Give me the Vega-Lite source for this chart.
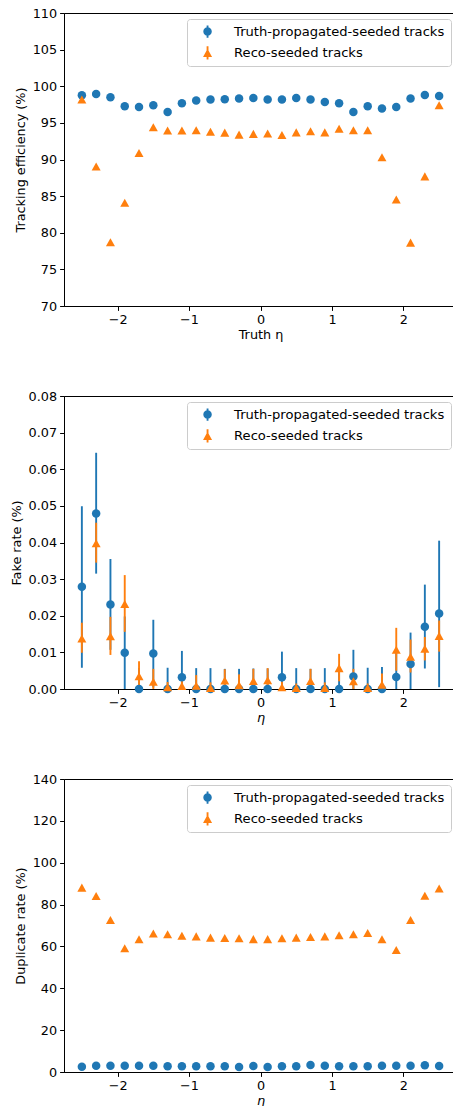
{
"$schema":"https://vega.github.io/schema/vega-lite/v6.json",
"background":"white",
"padding":{"top":6,"left":9,"right":0,"bottom":0},
"autosize":{"type":"pad"},
"spacing":90,
"bounds":"flush",
"resolve":{"scale":{"color":"independent","shape":"independent"},"legend":{"color":"independent","shape":"independent"}},
"config":{
 "font":"DejaVu Sans",
 "view":{"stroke":"black","strokeWidth":1},
 "axis":{"grid":false,"labelOverlap":false,"labelFont":"DejaVu Sans","titleFont":"DejaVu Sans","labelFontSize":12.8,"titleFontSize":12.8,"titleFontWeight":"normal","labelColor":"black","titleColor":"black","domainColor":"black","tickColor":"black","domainWidth":1,"tickWidth":1,"tickSize":4.4,"labelPadding":3},
 "axisX":{"titlePadding":2},
 "axisY":{"titlePadding":5},
 "legend":{"orient":"top-right","offset":6,"padding":6,"symbolOffset":8,"labelOffset":20,"rowPadding":6.3,"strokeColor":"#cccccc","fillColor":"rgba(255,255,255,0.8)","cornerRadius":3,"labelFont":"DejaVu Sans","labelFontSize":13.1,"labelColor":"black","labelLimit":0,"symbolStrokeWidth":0,"symbolSize":72,
  "symbolType":{"expr":"datum.value == 'Reco-seeded tracks' ? 'M0,-0.95L1.06,0.95L-1.06,0.95ZM-0.22,-1.55L0.22,-1.55L0.22,1.55L-0.22,1.55Z' : 'M1,0A1,1,0,1,1,-1,0A1,1,0,1,1,1,0ZM-0.22,-1.45L0.22,-1.45L0.22,1.45L-0.22,1.45Z'"}}
},
"datasets":{
"eff":[
{"eta":-2.5,"series":"Truth-propagated-seeded tracks","v":98.77},{"eta":-2.3,"series":"Truth-propagated-seeded tracks","v":98.95},{"eta":-2.1,"series":"Truth-propagated-seeded tracks","v":98.5},{"eta":-1.9,"series":"Truth-propagated-seeded tracks","v":97.27},{"eta":-1.7,"series":"Truth-propagated-seeded tracks","v":97.18},{"eta":-1.5,"series":"Truth-propagated-seeded tracks","v":97.4},{"eta":-1.3,"series":"Truth-propagated-seeded tracks","v":96.5},{"eta":-1.1,"series":"Truth-propagated-seeded tracks","v":97.68},{"eta":-0.9,"series":"Truth-propagated-seeded tracks","v":98.04},{"eta":-0.7,"series":"Truth-propagated-seeded tracks","v":98.18},{"eta":-0.5,"series":"Truth-propagated-seeded tracks","v":98.22},{"eta":-0.3,"series":"Truth-propagated-seeded tracks","v":98.32},{"eta":-0.1,"series":"Truth-propagated-seeded tracks","v":98.4},{"eta":0.1,"series":"Truth-propagated-seeded tracks","v":98.18},{"eta":0.3,"series":"Truth-propagated-seeded tracks","v":98.18},{"eta":0.5,"series":"Truth-propagated-seeded tracks","v":98.4},{"eta":0.7,"series":"Truth-propagated-seeded tracks","v":98.18},{"eta":0.9,"series":"Truth-propagated-seeded tracks","v":97.86},{"eta":1.1,"series":"Truth-propagated-seeded tracks","v":97.68},{"eta":1.3,"series":"Truth-propagated-seeded tracks","v":96.5},{"eta":1.5,"series":"Truth-propagated-seeded tracks","v":97.27},{"eta":1.7,"series":"Truth-propagated-seeded tracks","v":96.95},{"eta":1.9,"series":"Truth-propagated-seeded tracks","v":97.18},{"eta":2.1,"series":"Truth-propagated-seeded tracks","v":98.32},{"eta":2.3,"series":"Truth-propagated-seeded tracks","v":98.82},{"eta":2.5,"series":"Truth-propagated-seeded tracks","v":98.68},
{"eta":-2.5,"series":"Reco-seeded tracks","v":98.2},{"eta":-2.3,"series":"Reco-seeded tracks","v":89.05},{"eta":-2.1,"series":"Reco-seeded tracks","v":78.7},{"eta":-1.9,"series":"Reco-seeded tracks","v":84.1},{"eta":-1.7,"series":"Reco-seeded tracks","v":90.9},{"eta":-1.5,"series":"Reco-seeded tracks","v":94.4},{"eta":-1.3,"series":"Reco-seeded tracks","v":93.95},{"eta":-1.1,"series":"Reco-seeded tracks","v":93.95},{"eta":-0.9,"series":"Reco-seeded tracks","v":94.0},{"eta":-0.7,"series":"Reco-seeded tracks","v":93.8},{"eta":-0.5,"series":"Reco-seeded tracks","v":93.67},{"eta":-0.3,"series":"Reco-seeded tracks","v":93.4},{"eta":-0.1,"series":"Reco-seeded tracks","v":93.5},{"eta":0.1,"series":"Reco-seeded tracks","v":93.55},{"eta":0.3,"series":"Reco-seeded tracks","v":93.35},{"eta":0.5,"series":"Reco-seeded tracks","v":93.7},{"eta":0.7,"series":"Reco-seeded tracks","v":93.85},{"eta":0.9,"series":"Reco-seeded tracks","v":93.7},{"eta":1.1,"series":"Reco-seeded tracks","v":94.2},{"eta":1.3,"series":"Reco-seeded tracks","v":94.0},{"eta":1.5,"series":"Reco-seeded tracks","v":94.0},{"eta":1.7,"series":"Reco-seeded tracks","v":90.3},{"eta":1.9,"series":"Reco-seeded tracks","v":84.55},{"eta":2.1,"series":"Reco-seeded tracks","v":78.65},{"eta":2.3,"series":"Reco-seeded tracks","v":87.7},{"eta":2.5,"series":"Reco-seeded tracks","v":97.4}
],
"fake":[
{"eta":-2.5,"series":"Truth-propagated-seeded tracks","v":0.0279,"lo":0.0058,"hi":0.0499},{"eta":-2.3,"series":"Truth-propagated-seeded tracks","v":0.0479,"lo":0.0315,"hi":0.0645},{"eta":-2.1,"series":"Truth-propagated-seeded tracks","v":0.0231,"lo":0.0107,"hi":0.0355},{"eta":-1.9,"series":"Truth-propagated-seeded tracks","v":0.0099,"lo":0,"hi":0.0198},{"eta":-1.7,"series":"Truth-propagated-seeded tracks","v":0,"lo":0,"hi":0.0057},{"eta":-1.5,"series":"Truth-propagated-seeded tracks","v":0.0097,"lo":0.0004,"hi":0.0189},{"eta":-1.3,"series":"Truth-propagated-seeded tracks","v":0,"lo":0,"hi":0.0058},{"eta":-1.1,"series":"Truth-propagated-seeded tracks","v":0.0032,"lo":0,"hi":0.0104},{"eta":-0.9,"series":"Truth-propagated-seeded tracks","v":0,"lo":0,"hi":0.0057},{"eta":-0.7,"series":"Truth-propagated-seeded tracks","v":0,"lo":0,"hi":0.0057},{"eta":-0.5,"series":"Truth-propagated-seeded tracks","v":0,"lo":0,"hi":0.0055},{"eta":-0.3,"series":"Truth-propagated-seeded tracks","v":0,"lo":0,"hi":0.0055},{"eta":-0.1,"series":"Truth-propagated-seeded tracks","v":0,"lo":0,"hi":0.0056},{"eta":0.1,"series":"Truth-propagated-seeded tracks","v":0,"lo":0,"hi":0.0056},{"eta":0.3,"series":"Truth-propagated-seeded tracks","v":0.0032,"lo":0,"hi":0.0102},{"eta":0.5,"series":"Truth-propagated-seeded tracks","v":0,"lo":0,"hi":0.0057},{"eta":0.7,"series":"Truth-propagated-seeded tracks","v":0,"lo":0,"hi":0.0055},{"eta":0.9,"series":"Truth-propagated-seeded tracks","v":0,"lo":0,"hi":0.0057},{"eta":1.1,"series":"Truth-propagated-seeded tracks","v":0,"lo":0,"hi":0.0057},{"eta":1.3,"series":"Truth-propagated-seeded tracks","v":0.0034,"lo":0,"hi":0.0107},{"eta":1.5,"series":"Truth-propagated-seeded tracks","v":0,"lo":0,"hi":0.0058},{"eta":1.7,"series":"Truth-propagated-seeded tracks","v":0,"lo":0,"hi":0.006},{"eta":1.9,"series":"Truth-propagated-seeded tracks","v":0.0033,"lo":0,"hi":0.0105},{"eta":2.1,"series":"Truth-propagated-seeded tracks","v":0.0068,"lo":0,"hi":0.0154},{"eta":2.3,"series":"Truth-propagated-seeded tracks","v":0.017,"lo":0.0056,"hi":0.0285},{"eta":2.5,"series":"Truth-propagated-seeded tracks","v":0.0206,"lo":0.0005,"hi":0.0405},
{"eta":-2.5,"series":"Reco-seeded tracks","v":0.0138,"lo":0.0099,"hi":0.0181},{"eta":-2.3,"series":"Reco-seeded tracks","v":0.0398,"lo":0.0345,"hi":0.0454},{"eta":-2.1,"series":"Reco-seeded tracks","v":0.0144,"lo":0.0093,"hi":0.0197},{"eta":-1.9,"series":"Reco-seeded tracks","v":0.0232,"lo":0.0156,"hi":0.0311},{"eta":-1.7,"series":"Reco-seeded tracks","v":0.0035,"lo":0.0005,"hi":0.0076},{"eta":-1.5,"series":"Reco-seeded tracks","v":0.002,"lo":0,"hi":0.0055},{"eta":-1.3,"series":"Reco-seeded tracks","v":0.0005,"lo":0,"hi":0.0019},{"eta":-1.1,"series":"Reco-seeded tracks","v":0.0008,"lo":0,"hi":0.0025},{"eta":-0.9,"series":"Reco-seeded tracks","v":0.0009,"lo":0,"hi":0.0038},{"eta":-0.7,"series":"Reco-seeded tracks","v":0.0003,"lo":0,"hi":0.0018},{"eta":-0.5,"series":"Reco-seeded tracks","v":0.0023,"lo":0,"hi":0.0054},{"eta":-0.3,"series":"Reco-seeded tracks","v":0.001,"lo":0,"hi":0.004},{"eta":-0.1,"series":"Reco-seeded tracks","v":0.0022,"lo":0,"hi":0.0055},{"eta":0.1,"series":"Reco-seeded tracks","v":0.0024,"lo":0,"hi":0.0057},{"eta":0.3,"series":"Reco-seeded tracks","v":0.0005,"lo":0,"hi":0.002},{"eta":0.5,"series":"Reco-seeded tracks","v":0.0003,"lo":0,"hi":0.0015},{"eta":0.7,"series":"Reco-seeded tracks","v":0.0022,"lo":0,"hi":0.0055},{"eta":0.9,"series":"Reco-seeded tracks","v":0.0003,"lo":0,"hi":0.0018},{"eta":1.1,"series":"Reco-seeded tracks","v":0.0057,"lo":0.0021,"hi":0.0096},{"eta":1.3,"series":"Reco-seeded tracks","v":0.0021,"lo":0,"hi":0.0055},{"eta":1.5,"series":"Reco-seeded tracks","v":0.0003,"lo":0,"hi":0.0015},{"eta":1.7,"series":"Reco-seeded tracks","v":0.0012,"lo":0,"hi":0.0042},{"eta":1.9,"series":"Reco-seeded tracks","v":0.0107,"lo":0.005,"hi":0.0167},{"eta":2.1,"series":"Reco-seeded tracks","v":0.0088,"lo":0.0045,"hi":0.0135},{"eta":2.3,"series":"Reco-seeded tracks","v":0.011,"lo":0.0078,"hi":0.0142},{"eta":2.5,"series":"Reco-seeded tracks","v":0.0145,"lo":0.0102,"hi":0.0187}
],
"dup":[
{"eta":-2.5,"series":"Truth-propagated-seeded tracks","v":2.5},{"eta":-2.3,"series":"Truth-propagated-seeded tracks","v":3.0},{"eta":-2.1,"series":"Truth-propagated-seeded tracks","v":3.0},{"eta":-1.9,"series":"Truth-propagated-seeded tracks","v":3.0},{"eta":-1.7,"series":"Truth-propagated-seeded tracks","v":3.0},{"eta":-1.5,"series":"Truth-propagated-seeded tracks","v":3.0},{"eta":-1.3,"series":"Truth-propagated-seeded tracks","v":2.7},{"eta":-1.1,"series":"Truth-propagated-seeded tracks","v":2.7},{"eta":-0.9,"series":"Truth-propagated-seeded tracks","v":2.7},{"eta":-0.7,"series":"Truth-propagated-seeded tracks","v":2.7},{"eta":-0.5,"series":"Truth-propagated-seeded tracks","v":2.7},{"eta":-0.3,"series":"Truth-propagated-seeded tracks","v":2.4},{"eta":-0.1,"series":"Truth-propagated-seeded tracks","v":2.9},{"eta":0.1,"series":"Truth-propagated-seeded tracks","v":2.4},{"eta":0.3,"series":"Truth-propagated-seeded tracks","v":2.7},{"eta":0.5,"series":"Truth-propagated-seeded tracks","v":2.7},{"eta":0.7,"series":"Truth-propagated-seeded tracks","v":3.3},{"eta":0.9,"series":"Truth-propagated-seeded tracks","v":3.0},{"eta":1.1,"series":"Truth-propagated-seeded tracks","v":2.7},{"eta":1.3,"series":"Truth-propagated-seeded tracks","v":2.7},{"eta":1.5,"series":"Truth-propagated-seeded tracks","v":2.7},{"eta":1.7,"series":"Truth-propagated-seeded tracks","v":3.0},{"eta":1.9,"series":"Truth-propagated-seeded tracks","v":3.0},{"eta":2.1,"series":"Truth-propagated-seeded tracks","v":3.0},{"eta":2.3,"series":"Truth-propagated-seeded tracks","v":3.2},{"eta":2.5,"series":"Truth-propagated-seeded tracks","v":2.9},
{"eta":-2.5,"series":"Reco-seeded tracks","v":88.1},{"eta":-2.3,"series":"Reco-seeded tracks","v":84.1},{"eta":-2.1,"series":"Reco-seeded tracks","v":72.6},{"eta":-1.9,"series":"Reco-seeded tracks","v":59.1},{"eta":-1.7,"series":"Reco-seeded tracks","v":63.4},{"eta":-1.5,"series":"Reco-seeded tracks","v":66.2},{"eta":-1.3,"series":"Reco-seeded tracks","v":65.8},{"eta":-1.1,"series":"Reco-seeded tracks","v":65.1},{"eta":-0.9,"series":"Reco-seeded tracks","v":64.8},{"eta":-0.7,"series":"Reco-seeded tracks","v":64.2},{"eta":-0.5,"series":"Reco-seeded tracks","v":64.0},{"eta":-0.3,"series":"Reco-seeded tracks","v":63.9},{"eta":-0.1,"series":"Reco-seeded tracks","v":63.5},{"eta":0.1,"series":"Reco-seeded tracks","v":63.5},{"eta":0.3,"series":"Reco-seeded tracks","v":63.9},{"eta":0.5,"series":"Reco-seeded tracks","v":64.2},{"eta":0.7,"series":"Reco-seeded tracks","v":64.5},{"eta":0.9,"series":"Reco-seeded tracks","v":64.8},{"eta":1.1,"series":"Reco-seeded tracks","v":65.3},{"eta":1.3,"series":"Reco-seeded tracks","v":65.8},{"eta":1.5,"series":"Reco-seeded tracks","v":66.4},{"eta":1.7,"series":"Reco-seeded tracks","v":63.4},{"eta":1.9,"series":"Reco-seeded tracks","v":58.3},{"eta":2.1,"series":"Reco-seeded tracks","v":72.6},{"eta":2.3,"series":"Reco-seeded tracks","v":84.2},{"eta":2.5,"series":"Reco-seeded tracks","v":87.7}
]
},
"vconcat":[
{
 "width":393,"height":293,
 "data":{"name":"eff"},
 "mark":{"type":"point","filled":true,"opacity":1,"size":72,"strokeWidth":0},
 "encoding":{
  "x":{"field":"eta","type":"quantitative","scale":{"domain":[-2.75,2.75],"nice":false,"zero":false},"axis":{"values":[-2,-1,0,1,2],"format":"d","title":"Truth η","labelOverlap":false}},
  "y":{"field":"v","type":"quantitative","scale":{"domain":[70,110],"nice":false,"zero":false},"axis":{"values":[70,75,80,85,90,95,100,105,110],"format":"d","title":"Tracking efficiency (%)","labelOverlap":false}},
  "color":{"field":"series","type":"nominal","scale":{"domain":["Truth-propagated-seeded tracks","Reco-seeded tracks"],"range":["#1f77b4","#ff7f0e"]},"legend":{"title":null}},
  "shape":{"field":"series","type":"nominal","scale":{"domain":["Reco-seeded tracks","Truth-propagated-seeded tracks"],"range":["M0,-0.95L1.06,0.95L-1.06,0.95Z","circle"]},"legend":null}
 }
},
{
 "width":393,"height":293,
 "data":{"name":"fake"},
 "layer":[
  {"transform":[{"filter":"datum.series === 'Truth-propagated-seeded tracks'"}],
   "mark":{"type":"rule","color":"#1f77b4","strokeWidth":1.9},
   "encoding":{
    "x":{"field":"eta","type":"quantitative","scale":{"domain":[-2.75,2.75],"nice":false,"zero":false},"axis":{"values":[-2,-1,0,1,2],"format":"d","title":"η","titleFontStyle":"italic","labelOverlap":false}},
    "y":{"field":"lo","type":"quantitative","scale":{"domain":[0,0.08],"nice":false,"zero":false},"axis":{"values":[0,0.01,0.02,0.03,0.04,0.05,0.06,0.07,0.08],"format":".2f","title":"Fake rate (%)","labelOverlap":false}},
    "y2":{"field":"hi"}}},
  {"transform":[{"filter":"datum.series === 'Reco-seeded tracks'"}],
   "mark":{"type":"rule","color":"#ff7f0e","strokeWidth":1.9},
   "encoding":{
    "x":{"field":"eta","type":"quantitative","scale":{"domain":[-2.75,2.75],"nice":false,"zero":false},"axis":{"values":[-2,-1,0,1,2],"format":"d","title":"η","titleFontStyle":"italic","labelOverlap":false}},
    "y":{"field":"lo","type":"quantitative","scale":{"domain":[0,0.08],"nice":false,"zero":false},"axis":{"values":[0,0.01,0.02,0.03,0.04,0.05,0.06,0.07,0.08],"format":".2f","title":"Fake rate (%)","labelOverlap":false}},
    "y2":{"field":"hi"}}},
  {"mark":{"type":"point","filled":true,"opacity":1,"size":72,"strokeWidth":0},
   "encoding":{
    "x":{"field":"eta","type":"quantitative","scale":{"domain":[-2.75,2.75],"nice":false,"zero":false},"axis":{"values":[-2,-1,0,1,2],"format":"d","title":"η","titleFontStyle":"italic","labelOverlap":false}},
    "y":{"field":"v","type":"quantitative","scale":{"domain":[0,0.08],"nice":false,"zero":false},"axis":{"values":[0,0.01,0.02,0.03,0.04,0.05,0.06,0.07,0.08],"format":".2f","title":"Fake rate (%)","labelOverlap":false}},
    "color":{"field":"series","type":"nominal","scale":{"domain":["Truth-propagated-seeded tracks","Reco-seeded tracks"],"range":["#1f77b4","#ff7f0e"]},"legend":{"title":null}},
    "shape":{"field":"series","type":"nominal","scale":{"domain":["Reco-seeded tracks","Truth-propagated-seeded tracks"],"range":["M0,-0.95L1.06,0.95L-1.06,0.95Z","circle"]},"legend":null}}}
 ]
},
{
 "width":393,"height":293,
 "data":{"name":"dup"},
 "mark":{"type":"point","filled":true,"opacity":1,"size":72,"strokeWidth":0},
 "encoding":{
  "x":{"field":"eta","type":"quantitative","scale":{"domain":[-2.75,2.75],"nice":false,"zero":false},"axis":{"values":[-2,-1,0,1,2],"format":"d","title":"η","titleFontStyle":"italic","labelOverlap":false}},
  "y":{"field":"v","type":"quantitative","scale":{"domain":[0,140],"nice":false,"zero":false},"axis":{"values":[0,20,40,60,80,100,120,140],"format":"d","title":"Duplicate rate (%)","labelOverlap":false}},
  "color":{"field":"series","type":"nominal","scale":{"domain":["Truth-propagated-seeded tracks","Reco-seeded tracks"],"range":["#1f77b4","#ff7f0e"]},"legend":{"title":null}},
  "shape":{"field":"series","type":"nominal","scale":{"domain":["Reco-seeded tracks","Truth-propagated-seeded tracks"],"range":["M0,-0.95L1.06,0.95L-1.06,0.95Z","circle"]},"legend":null}
 }
}
]
}
